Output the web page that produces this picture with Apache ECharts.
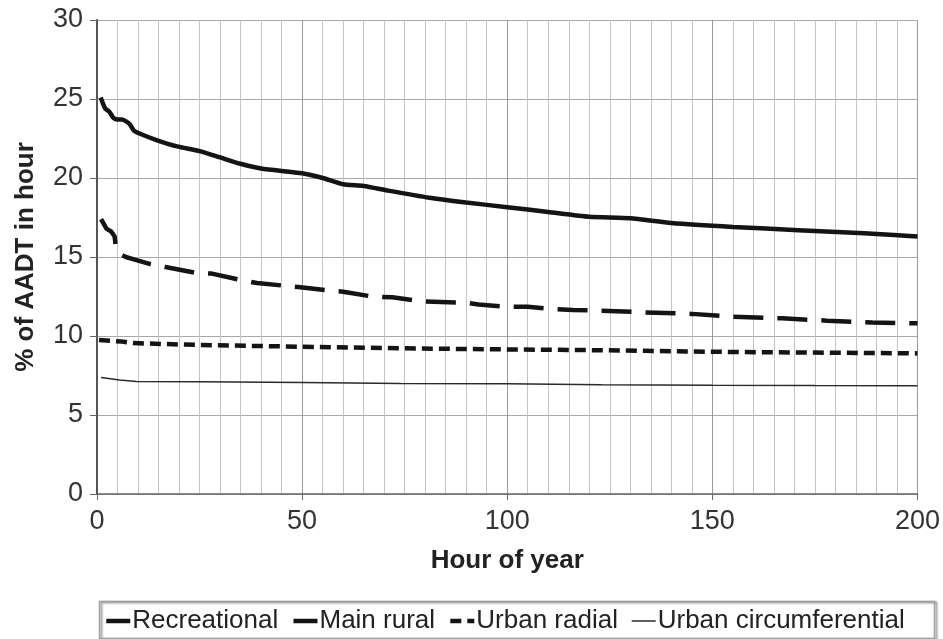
<!DOCTYPE html>
<html>
<head>
<meta charset="utf-8">
<script src="https://cdn.jsdelivr.net/npm/echarts@6/dist/echarts.min.js"></script>
<style>html,body{margin:0;padding:0;background:#fff}#c{width:943px;height:639px}</style>
</head>
<body>
<div id="c"></div>
<script>
const seriesNames = ['Recreational', 'Main rural', 'Urban radial', 'Urban circumferential'];
const xTicks = [0, 50, 100, 150, 200];
const yTicks = [0, 5, 10, 15, 20, 25, 30];

const recreational = [[0.9,25.1],[2,24.4],[3,24.2],[4,23.8],[5,23.7],[6,23.7],[7,23.6],[8,23.4],[9,23.0],[10.5,22.8],[14.5,22.4],[19.5,22.0],[25,21.7],[30,21.3],[35,20.9],[40,20.6],[50,20.3],[55,20.0],[60,19.6],[65,19.5],[71,19.2],[81,18.75],[90,18.45],[100,18.15],[110,17.85],[120,17.55],[130,17.45],[140,17.15],[155,16.9],[171,16.7],[187,16.5],[200,16.3]];
const mainRural = [[1,17.4],[2.3,16.8],[3.5,16.6],[4.3,16.3],[4.6,15.6],[5.5,15.2],[7,15.0],[9,14.85],[13,14.55],[17,14.35],[24,14.0],[28,13.95],[35,13.55],[39,13.35],[49,13.1],[57,12.87],[60,12.8],[67,12.5],[72,12.45],[79,12.2],[90,12.1],[93,12.0],[100,11.85],[105,11.85],[111,11.7],[116,11.65],[123,11.6],[133,11.5],[145,11.4],[155,11.22],[167,11.12],[178,10.97],[189,10.85],[200,10.8]];
const urbanRadial = [[0.5,9.75],[6,9.65],[9,9.55],[25,9.43],[50,9.32],[74,9.22],[100,9.15],[123,9.1],[150,9.0],[175,8.95],[200,8.9]];
const urbanCircumferential = [[1,7.38],[5.5,7.22],[9.6,7.12],[25,7.1],[50,7.05],[74,7.0],[100,6.97],[123,6.92],[150,6.88],[175,6.86],[200,6.85]];

const chart = echarts.init(document.getElementById('c'), null, {renderer: 'canvas'});
const font = 'Liberation Sans, Arial, sans-serif';
const lineColor = '#141414';

chart.setOption({
  animation: false,
  backgroundColor: '#fff',
  textStyle: {fontFamily: font},
  grid: {left: 97, top: 20, right: 25, bottom: 145, containLabel: false},
  xAxis: {
    type: 'value', min: xTicks[0], max: xTicks[xTicks.length - 1], interval: 50,
    name: 'Hour of year', nameLocation: 'middle', nameGap: 54,
    nameTextStyle: {fontSize: 26, fontWeight: 'bold', color: '#222', fontFamily: font},
    axisLine: {show: true, onZero: false, lineStyle: {color: '#666', width: 1.5}},
    axisTick: {show: true, length: 6, lineStyle: {color: '#666'}},
    axisLabel: {fontSize: 27, color: '#333', margin: 14, fontFamily: font,
      formatter: v => xTicks.includes(v) ? String(v) : ''},
    splitLine: {show: true, lineStyle: {color: '#9a9a9a', width: 1}},
    minorTick: {show: false, splitNumber: 10},
    minorSplitLine: {show: true, lineStyle: {color: '#c4c4c4', width: 1}}
  },
  yAxis: {
    type: 'value', min: yTicks[0], max: yTicks[yTicks.length - 1], interval: 5,
    name: '% of AADT in hour', nameLocation: 'middle', nameGap: 58,
    nameTextStyle: {fontSize: 26, fontWeight: 'bold', color: '#222', fontFamily: font},
    axisLine: {show: true, lineStyle: {color: '#555', width: 2}},
    axisTick: {show: true, length: 7, lineStyle: {color: '#666'}},
    axisLabel: {fontSize: 27, color: '#333', margin: 14, fontFamily: font},
    splitLine: {show: true, lineStyle: {color: '#a8a8a8', width: 1}}
  },
  legend: {
    left: 99, top: 603, itemWidth: 24, itemHeight: 14, itemGap: 13,
    itemStyle: {color: 'rgba(0,0,0,0)', borderWidth: 0, opacity: 0},
    textStyle: {fontSize: 26, color: '#222', fontFamily: font, padding: [0, 0, 0, -3]},
    data: [
      {name: seriesNames[0], lineStyle: {width: 4.5, color: lineColor}},
      {name: seriesNames[1], lineStyle: {width: 4.5, color: lineColor}},
      {name: seriesNames[2], lineStyle: {width: 4.5, color: lineColor}},
      {name: seriesNames[3], lineStyle: {width: 1.5, color: '#2a2a2a'}}
    ]
  },
  graphic: [{
    type: 'rect', left: 97, top: 599, shape: {width: 835, height: 37},
    style: {fill: 'none', stroke: '#a0a0a0', lineWidth: 1.5, shadowColor: 'rgba(0,0,0,0.5)', shadowOffsetX: 2, shadowOffsetY: 1, shadowBlur: 2},
    silent: true, z: -1
  }],
  series: [
    {name: seriesNames[0], type: 'line', data: recreational, symbol: 'none', smooth: 0.2,
      lineStyle: {color: lineColor, width: 4.5, type: 'solid'}, itemStyle: {color: lineColor}},
    {name: seriesNames[1], type: 'line', data: mainRural, symbol: 'none',
      lineStyle: {color: lineColor, width: 4.5, type: [30, 14]}, itemStyle: {color: lineColor}},
    {name: seriesNames[2], type: 'line', data: urbanRadial, symbol: 'none',
      lineStyle: {color: lineColor, width: 4.5, type: [11, 6]}, itemStyle: {color: lineColor}},
    {name: seriesNames[3], type: 'line', data: urbanCircumferential, symbol: 'none',
      lineStyle: {color: '#2a2a2a', width: 1.5, type: 'solid'}, itemStyle: {color: '#2a2a2a'}}
  ]
});
</script>
</body>
</html>
